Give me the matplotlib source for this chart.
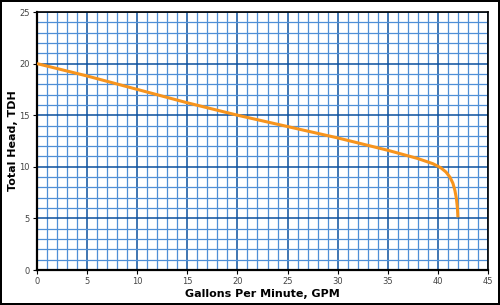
import matplotlib
matplotlib.use("Agg")
import matplotlib.pyplot as plt
from matplotlib.ticker import MultipleLocator

# pump curve
gpm = [0, 5, 10, 15, 20, 25, 30, 35, 38, 39.5, 40.3, 40.8, 41.2, 41.5, 41.7, 41.85, 41.95, 42.0]
tdh = [20, 18.8, 17.5, 16.2, 15.0, 13.9, 12.8, 11.6, 10.8, 10.3, 9.9, 9.5, 9.0, 8.4, 7.7, 6.9, 6.0, 5.1]

x_ticks = [0, 5, 10, 15, 20, 25, 30, 35, 40, 45]
y_ticks = [0, 5, 10, 15, 20, 25]

fig = plt.figure(figsize=(5, 3.05), dpi=100)
fig.patch.set_edgecolor("black")
fig.patch.set_linewidth(1.5)
ax = fig.add_axes([37 / 500, 35 / 305, 451 / 500, 258 / 305])

ax.set_xlim(0, 45)
ax.set_ylim(0, 25)
ax.set_xticks(x_ticks)
ax.set_yticks(y_ticks)
ax.xaxis.set_minor_locator(MultipleLocator(1))
ax.yaxis.set_minor_locator(MultipleLocator(1))

ax.grid(which="minor", color="#4f8fd6", linewidth=0.9)
ax.grid(which="major", color="#0b4f9c", linewidth=1.1)
ax.set_axisbelow(True)

ax.plot(gpm, tdh, color="#f7941d", linewidth=2.2, solid_capstyle="butt", zorder=3)

for s in ax.spines.values():
    s.set_color("black")
    s.set_linewidth(1.2)
ax.spines["left"].set_linewidth(1.6)
ax.spines["bottom"].set_linewidth(1.6)

ax.tick_params(which="major", length=3, width=0.8, labelsize=6, labelcolor="#444444", pad=2)
ax.tick_params(which="minor", length=0)

ax.set_xlabel("Gallons Per Minute, GPM", fontsize=8, fontweight="bold", labelpad=2)
ax.set_ylabel("Total Head, TDH", fontsize=8, fontweight="bold", labelpad=1)

fig.savefig("out.png", dpi=100)
